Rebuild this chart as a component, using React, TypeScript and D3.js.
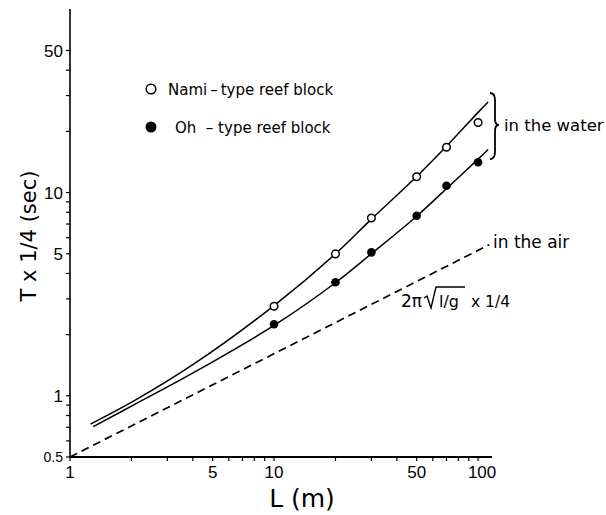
import React from 'react';
import * as d3 from 'd3';

// axis ticks
const xMajorTicks = [1, 5, 10, 50, 100];
const xMinorTicks = [2, 3, 4, 6, 7, 8, 9, 20, 30, 40, 60, 70, 80, 90];
const yMajorTicks = [0.5, 1, 5, 10, 50];
const yMinorTicks = [0.6, 0.7, 0.8, 0.9, 2, 3, 4, 6, 7, 8, 9, 20, 30, 40];

// measured points
const pointL = [10, 20, 30, 50, 70, 100];
const namiT = [2.76, 4.99, 7.5, 11.97, 16.7, 22.1];
const ohT = [2.25, 3.62, 5.08, 7.69, 10.8, 14.1];

// fitted curves
const namiCurveL = [1.26, 2.13, 4.03, 10, 20, 30, 50, 70, 100, 112];
const namiCurveT = [0.726, 0.963, 1.43, 2.78, 4.99, 7.4, 12.0, 16.9, 24.8, 27.9];
const ohCurveL = [1.3, 2.13, 4.03, 10, 20, 30, 50, 70, 100, 112];
const ohCurveT = [0.705, 0.92, 1.3, 2.22, 3.6, 5.0, 7.65, 10.45, 14.6, 16.3];

// 2*pi*sqrt(l/g) x 1/4 in the air
const airL = [1, 113.4];
const airT = [0.5, 5.54];

const W = 606;
const H = 515;
const FONT = '"DejaVu Sans", sans-serif';
const NUM_FONT = '"Liberation Sans", Arial, sans-serif';

const App: React.FC = () => {
  const x = d3.scaleLog().domain([1, 117]).range([70, 492]);
  const y = d3.scaleLog().domain([0.5, 80]).range([457, 9]);

  const line = d3
    .line<[number, number]>()
    .x((d) => x(d[0]))
    .y((d) => y(d[1]))
    .curve(d3.curveCatmullRom.alpha(0.5));

  const straight = d3
    .line<[number, number]>()
    .x((d) => x(d[0]))
    .y((d) => y(d[1]));

  const namiCurve = namiCurveL.map((l, i) => [l, namiCurveT[i]] as [number, number]);
  const ohCurve = ohCurveL.map((l, i) => [l, ohCurveT[i]] as [number, number]);
  const airLine = airL.map((l, i) => [l, airT[i]] as [number, number]);

  const x0 = x.range()[0];
  const y0 = y.range()[0];

  return (
    <svg
      width={W}
      height={H}
      style={{ position: 'absolute', left: 0, top: 0, background: '#fff' }}
    >
      <rect width={W} height={H} fill="#fff" />

      {/* axes */}
      <line x1={x0} x2={x0} y1={y.range()[1]} y2={y0} stroke="#000" strokeWidth={1.6} />
      <line x1={x0} x2={x.range()[1]} y1={y0} y2={y0} stroke="#000" strokeWidth={2} />

      {yMajorTicks.concat(yMinorTicks).map((t) => (
        <line key={'yt' + t} x1={x0 - 4} x2={x0} y1={y(t)} y2={y(t)} stroke="#000" strokeWidth={1.2} />
      ))}
      {xMajorTicks.concat(xMinorTicks).map((t) => (
        <line key={'xt' + t} x1={x(t)} x2={x(t)} y1={y0} y2={y0 + 4} stroke="#000" strokeWidth={1.2} />
      ))}

      {yMajorTicks.map((t) => (
        <text
          key={'yl' + t}
          x={x0 - 7}
          y={y(t)}
          dy="0.36em"
          textAnchor="end"
          fontFamily={NUM_FONT}
          fontSize={t === 0.5 ? 14 : 17}
        >
          {t}
        </text>
      ))}
      {xMajorTicks.map((t) => (
        <text
          key={'xl' + t}
          x={x(t) + (t === 100 ? 4 : 0)}
          y={y0 + 21}
          textAnchor="middle"
          fontFamily={NUM_FONT}
          fontSize={17}
        >
          {t}
        </text>
      ))}

      {/* axis titles */}
      <text x={302} y={507} textAnchor="middle" fontFamily={FONT} fontSize={25}>
        L (m)
      </text>
      <text
        transform="translate(36,236) rotate(-90)"
        textAnchor="middle"
        fontFamily={FONT}
        fontSize={21}
      >
        T x 1/4 (sec)
      </text>

      {/* curves */}
      <path d={line(namiCurve) || ''} fill="none" stroke="#000" strokeWidth={1.5} />
      <path d={line(ohCurve) || ''} fill="none" stroke="#000" strokeWidth={1.5} />
      <path
        d={straight(airLine) || ''}
        fill="none"
        stroke="#000"
        strokeWidth={1.7}
        strokeDasharray="8,5"
      />

      {/* points */}
      {pointL.map((l, i) => (
        <circle key={'n' + l} cx={x(l)} cy={y(namiT[i])} r={3.8} fill="#fff" stroke="#000" strokeWidth={1.5} />
      ))}
      {pointL.map((l, i) => (
        <circle key={'o' + l} cx={x(l)} cy={y(ohT[i])} r={4.3} fill="#000" />
      ))}

      {/* legend */}
      <circle cx={151} cy={89} r={4.8} fill="#fff" stroke="#000" strokeWidth={1.5} />
      <text x={168} y={95} fontFamily={FONT} fontSize={15}>
        {'Nami\u2009–\u2009type reef block'}
      </text>
      <circle cx={151} cy={127} r={5.5} fill="#000" />
      <text x={175} y={133} fontFamily={FONT} fontSize={15} style={{ whiteSpace: 'pre' }}>
        {'Oh  – type reef block'}
      </text>

      {/* annotations */}
      <path
        d="M490,93 Q495,93 495,100 L495,119 Q495,125 499,125 Q495,125 495,131 L495,152 Q495,159 490,159"
        fill="none"
        stroke="#000"
        strokeWidth={1.8}
      />
      <text x={504} y={131} fontFamily={FONT} fontSize={16.5}>
        in the water
      </text>
      <text x={493} y={248} fontFamily={FONT} fontSize={17}>
        in the air
      </text>
      <text x={401} y={307} fontFamily={FONT} fontSize={17}>
        2π
      </text>
      <path
        d="M424,298 L427,296 L431,308 L436,287 L465,287"
        fill="none"
        stroke="#000"
        strokeWidth={1.4}
      />
      <text x={439} y={307} fontFamily={FONT} fontSize={16}>
        l/g
      </text>
      <text x={471} y={307} fontFamily={FONT} fontSize={15.5}>
        x 1/4
      </text>
    </svg>
  );
};

export default App;
